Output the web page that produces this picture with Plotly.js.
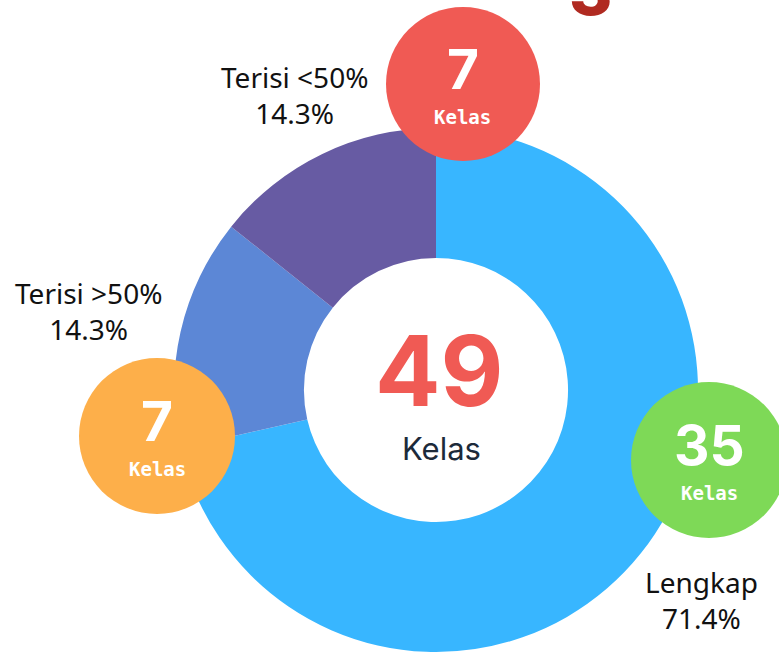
<!DOCTYPE html>
<html>
<head>
<meta charset="utf-8">
<script src="https://cdn.plot.ly/plotly-3.0.1.min.js"></script>
<style>html,body{margin:0;padding:0;background:#fff;}#chart{width:779px;height:655px;}</style>
</head>
<body>
<div id="chart"></div>
<script>
// ---- data ----
const labels = ['Lengkap', 'Terisi >50%', 'Terisi <50%'];
const values = [35, 7, 7];
const sliceColors = ['#38b6ff', '#5c87d6', '#675ba3'];
const badgeColors = ['#7ed957', '#fdaf4a', '#f05a54'];
const unitLabel = 'Kelas';
const totalValue = values.reduce((a, b) => a + b, 0);

// ---- layout helpers (pixel -> paper) ----
const W = 779, H = 655;
const px = x => x / W;
const py = y => 1 - y / H;

const pieCx = 436, pieCy = 390, pieR = 262;

// badge placements (pixels)
const badgePos = [
  {cx: 709, cy: 460, r: 78},
  {cx: 157, cy: 436, r: 78},
  {cx: 463, cy: 84, r: 77}
];
// outside slice-label placements (pixels: block centre)
const labelPos = [
  {x: 701, y: 598},
  {x: 88, y: 309},
  {x: 294, y: 93}
];

const shapes = [];
const annotations = [];

badgePos.forEach((b, i) => {
  shapes.push({
    type: 'circle', xref: 'paper', yref: 'paper', layer: 'above',
    x0: px(b.cx - b.r), x1: px(b.cx + b.r), y0: py(b.cy + b.r), y1: py(b.cy - b.r),
    fillcolor: badgeColors[i], line: {width: 0}
  });
  annotations.push({
    xref: 'paper', yref: 'paper', x: px(b.cx), y: py(b.cy - 15),
    xanchor: 'center', yanchor: 'middle', showarrow: false,
    text: String(values[i]),
    font: {family: 'Inter, Lato, sans-serif', size: 55, color: '#ffffff', weight: 700}
  });
  annotations.push({
    xref: 'paper', yref: 'paper', x: px(b.cx), y: py(b.cy + 33),
    xanchor: 'center', yanchor: 'middle', showarrow: false,
    text: unitLabel,
    font: {family: 'DejaVu Sans Mono, monospace', size: 19, color: '#ffffff', weight: 700}
  });
});

// slice labels (name + percent)
labelPos.forEach((p, i) => {
  const pct = (values[i] / totalValue * 100).toFixed(1) + '%';
  annotations.push({
    xref: 'paper', yref: 'paper', x: px(p.x), y: py(p.y + 2),
    xanchor: 'center', yanchor: 'middle', showarrow: false,
    text: labels[i].replace('<', '&lt;').replace('>', '&gt;') + '<br>' + pct,
    align: 'center',
    font: {family: 'Noto Sans, sans-serif', size: 28, color: '#111111'}
  });
});

// centre total
annotations.push({
  xref: 'paper', yref: 'paper', x: px(pieCx + 3), y: py(370),
  xanchor: 'center', yanchor: 'middle', showarrow: false,
  text: String(totalValue),
  font: {family: 'Inter, Lato, sans-serif', size: 97, color: '#f05a54', weight: 700}
});
annotations.push({
  xref: 'paper', yref: 'paper', x: px(pieCx + 5), y: py(448),
  xanchor: 'center', yanchor: 'middle', showarrow: false,
  text: unitLabel,
  font: {family: 'Inter, Lato, sans-serif', size: 31, color: '#1c2a3a', weight: 400}
});

// clipped heading fragment at the very top
annotations.push({
  xref: 'paper', yref: 'paper', x: px(590), y: py(33),
  xanchor: 'center', yanchor: 'bottom', showarrow: false,
  text: '3',
  font: {family: 'Inter, Lato, sans-serif', size: 66, color: '#b02a21', weight: 800}
});

const trace = {
  type: 'pie',
  labels: labels,
  values: values,
  hole: 0.504,
  sort: false,
  direction: 'clockwise',
  rotation: 0,
  marker: {colors: sliceColors, line: {width: 0}},
  textinfo: 'none',
  hoverinfo: 'skip',
  domain: {x: [px(pieCx - pieR), px(pieCx + pieR)], y: [py(pieCy + pieR), py(pieCy - pieR)]}
};

const layout = {
  width: W, height: H,
  margin: {l: 0, r: 0, t: 0, b: 0},
  paper_bgcolor: '#ffffff',
  showlegend: false,
  shapes: shapes,
  annotations: annotations
};

Plotly.newPlot('chart', [trace], layout, {displayModeBar: false, staticPlot: true});
</script>
</body>
</html>
